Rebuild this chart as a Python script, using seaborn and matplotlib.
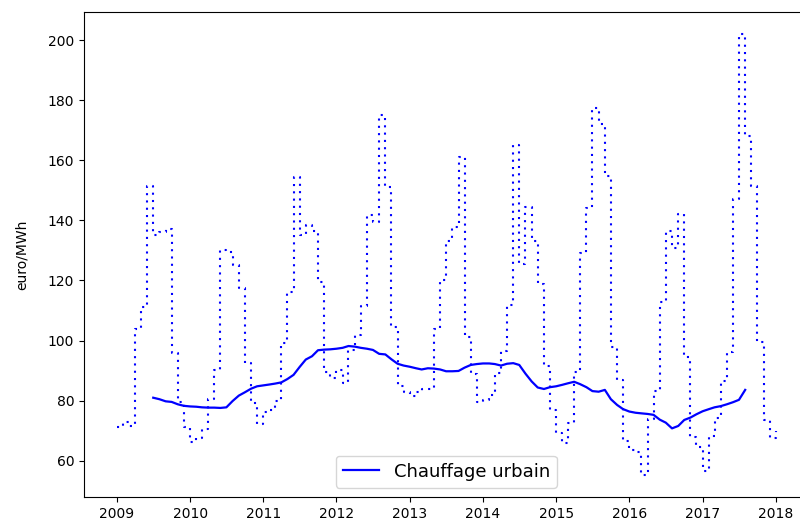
import matplotlib
matplotlib.use("Agg")
import matplotlib.pyplot as plt
import seaborn as sns
import pandas as pd
import numpy as np

# Monthly prices (dotted, step line), Jan 2009 .. Jan 2018
months = pd.date_range("2009-01-01", "2018-01-01", freq="MS")
prix_mensuel = [
    71.4, 73.0, 71.7, 104.0, 111.3, 151.5, 135.0, 136.0, 137.2, 96.0, 79.5, 71.4,
    66.4, 67.5, 70.5, 80.5, 90.3, 130.2, 129.6, 125.2, 117.4, 92.5, 79.2, 72.3,
    76.4, 77.0, 80.0, 99.1, 116.3, 154.5, 135.0, 138.3, 136.5, 119.5, 89.5, 87.5,
    90.3, 85.8, 97.0, 102.0, 111.5, 141.8, 139.6, 175.0, 151.2, 104.5, 85.0, 83.0,
    81.5, 83.0, 84.0, 84.0, 104.0, 120.2, 133.0, 137.8, 161.0, 101.3, 89.0, 79.7,
    80.3, 82.0, 89.3, 96.4, 112.0, 165.0, 125.5, 144.3, 133.3, 119.0, 91.5, 77.0,
    69.3, 66.0, 72.5, 89.7, 129.0, 144.0, 177.3, 172.0, 154.6, 98.0, 87.0, 66.5,
    63.5, 62.8, 55.3, 74.0, 83.3, 112.7, 136.5, 130.7, 142.0, 94.7, 68.0, 64.5,
    56.7, 68.1, 74.2, 86.4, 96.3, 147.0, 202.0, 168.0, 151.3, 99.7, 73.5, 67.5,
    70.0,
]

# Annual (12-month) average, Jul 2009 .. Aug 2017 (solid line)
months_moy = pd.date_range("2009-07-01", "2017-08-01", freq="MS")
prix_moyen = [
    81.0, 80.5, 79.8, 79.6, 78.8, 78.3,
    78.1, 78.0, 77.8, 77.7, 77.7, 77.6, 77.8, 79.9, 81.7, 82.8, 84.0, 84.8,
    85.1, 85.4, 85.7, 86.1, 87.2, 88.6, 91.2, 93.7, 94.8, 96.8, 97.0, 97.1,
    97.3, 97.6, 98.2, 98.0, 97.6, 97.3, 96.9, 95.6, 95.4, 93.8, 92.3, 91.7,
    91.3, 90.8, 90.4, 90.8, 90.7, 90.4, 89.8, 89.8, 89.9, 91.0, 91.9, 92.2,
    92.4, 92.4, 92.2, 91.7, 92.3, 92.5, 91.9, 89.0, 86.4, 84.4, 83.9, 84.5,
    84.8, 85.3, 85.8, 86.3, 85.5, 84.5, 83.2, 83.0, 83.6, 80.5, 78.6, 77.2,
    76.4, 76.0, 75.8, 75.6, 75.3, 73.7, 72.7, 70.8, 71.6, 73.6, 74.4, 75.5,
    76.5, 77.2, 77.8, 78.2, 78.8, 79.5, 80.3, 83.6,
]

serie_label = "Chauffage urbain"
ylabel = "euro/MWh"

df_m = pd.DataFrame({"date": months, "prix": prix_mensuel})
df_a = pd.DataFrame({"date": months_moy, "prix": prix_moyen})

fig = plt.figure(figsize=(8.0, 5.28), dpi=100)
ax = fig.add_axes([0.105, 0.0587, 0.906, 0.9186])

sns.lineplot(data=df_m, x="date", y="prix", ax=ax, color="blue",
             drawstyle="steps-post", linestyle=(0, (1, 2.5)), linewidth=1.5)
sns.lineplot(data=df_a, x="date", y="prix", ax=ax, color="blue",
             linewidth=1.6, label=serie_label)

ax.set_xlabel("")
ax.set_ylabel(ylabel, fontsize=10, labelpad=14)
ax.tick_params(labelsize=10)
ax.legend(loc="lower center", fontsize=13)

fig.savefig("out.png", dpi=100)
